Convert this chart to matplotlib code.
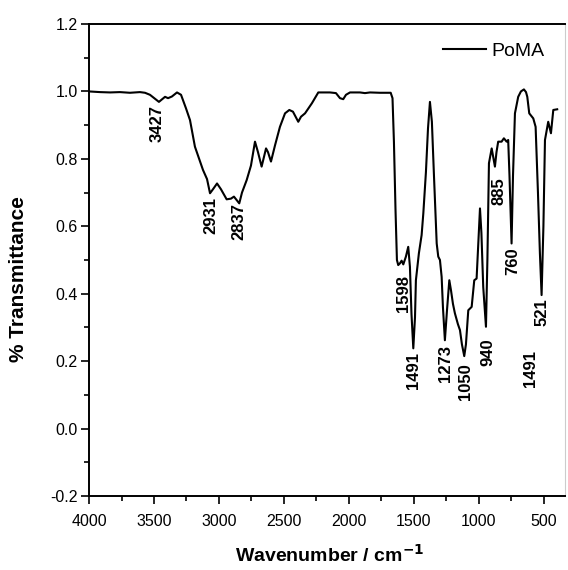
import numpy as np
import matplotlib
matplotlib.use('Agg')
import matplotlib.pyplot as plt
from matplotlib.ticker import MultipleLocator

plt.rcParams['font.family'] = ['Liberation Sans', 'DejaVu Sans']

# FTIR spectrum of PoMA
wavenumber = np.array([
   4000, 3915, 3838, 3762, 3685, 3608, 3569, 3531, 3462, 3415, 3392, 3362,
   3323, 3292, 3254, 3223, 3185, 3123, 3092, 3069, 3046, 3015, 2985, 2941,
   2908, 2885, 2869, 2844, 2823, 2787, 2754, 2723, 2700, 2672, 2638, 2623,
   2600, 2569, 2531, 2492, 2459, 2431, 2390, 2369, 2338, 2285, 2236, 2146,
   2100, 2069, 2044, 2023, 1992, 1915, 1877, 1838, 1762, 1679, 1665, 1654,
   1642, 1631, 1621, 1608, 1595, 1582, 1562, 1544, 1531, 1519, 1505, 1492,
   1485, 1462, 1441, 1428, 1408, 1392, 1377, 1362, 1346, 1325, 1313, 1300,
   1287, 1277, 1262, 1246, 1228, 1215, 1200, 1185, 1162, 1146, 1131, 1113,
   1100, 1082, 1056, 1036, 1018, 1004, 992, 981, 967, 946, 935, 923,
   902, 888, 877, 865, 852, 826, 808, 787, 775, 765, 749, 738,
   723, 698, 677, 654, 638, 628, 613, 582, 564, 546, 531, 518,
   504, 492, 467, 446, 428, 398])
transmittance = np.array([
   1.000, 0.998, 0.997, 0.998, 0.996, 0.998, 0.996, 0.990, 0.969, 0.984, 0.980, 0.985,
   0.997, 0.990, 0.950, 0.915, 0.836, 0.767, 0.740, 0.698, 0.710, 0.727, 0.710, 0.680,
   0.682, 0.688, 0.680, 0.668, 0.700, 0.737, 0.780, 0.851, 0.820, 0.777, 0.831, 0.820,
   0.792, 0.840, 0.895, 0.935, 0.945, 0.940, 0.910, 0.925, 0.935, 0.965, 0.997, 0.997,
   0.995, 0.980, 0.977, 0.990, 0.997, 0.997, 0.995, 0.997, 0.996, 0.996, 0.980, 0.850,
   0.650, 0.500, 0.485, 0.490, 0.498, 0.487, 0.510, 0.539, 0.480, 0.340, 0.238, 0.330,
   0.440, 0.520, 0.574, 0.638, 0.760, 0.890, 0.969, 0.910, 0.750, 0.549, 0.510, 0.500,
   0.450, 0.360, 0.262, 0.350, 0.440, 0.410, 0.370, 0.342, 0.310, 0.292, 0.250, 0.215,
   0.250, 0.351, 0.361, 0.440, 0.445, 0.560, 0.653, 0.580, 0.420, 0.302, 0.500, 0.787,
   0.831, 0.800, 0.777, 0.820, 0.851, 0.851, 0.861, 0.851, 0.856, 0.750, 0.549, 0.750,
   0.935, 0.984, 1.000, 1.006, 0.998, 0.984, 0.935, 0.920, 0.895, 0.700, 0.520, 0.396,
   0.600, 0.856, 0.910, 0.876, 0.945, 0.947])

# peak labels: text, x, top of text
peak_labels = ['3427', '2931', '2837', '1598', '1491', '1273', '1050', '940',
               '1491', '521', '885', '760']
peak_x = [3473, 3062, 2846, 1577, 1500, 1258, 1100, 931, 600, 512, 846, 739]
peak_y = [0.960, 0.687, 0.669, 0.455, 0.227, 0.248, 0.194, 0.268, 0.233, 0.387, 0.746, 0.538]

fig = plt.figure(figsize=(5.68, 5.70), dpi=100)
ax = fig.add_axes([0.1567, 0.1298, 0.8380, 0.8281])

ax.plot(wavenumber, transmittance, color='black', lw=1.5, label='PoMA',
        solid_joinstyle='round')

for txt, x, y in zip(peak_labels, peak_x, peak_y):
   ax.text(x, y, txt, rotation=90, ha='center', va='top', fontsize=12, fontweight='bold')

ax.set_xlim(4000, 338)
ax.set_ylim(-0.2, 1.2)
ax.xaxis.set_major_locator(MultipleLocator(500))
ax.xaxis.set_minor_locator(MultipleLocator(250))
ax.yaxis.set_major_locator(MultipleLocator(0.2))
ax.yaxis.set_minor_locator(MultipleLocator(0.1))
ax.tick_params(axis='both', which='major', direction='out', length=6, width=1.2, labelsize=11.5)
ax.tick_params(axis='both', which='minor', direction='out', length=3.5, width=1.2)
ax.tick_params(axis='x', which='major', pad=7)
ax.tick_params(axis='y', which='major', pad=2)
ax.yaxis.set_major_formatter(matplotlib.ticker.FormatStrFormatter('%.1f'))

for s in ['left', 'bottom', 'top']:
   ax.spines[s].set_linewidth(1.4)
ax.spines['right'].set_color('#cccccc')
ax.spines['right'].set_linewidth(0.8)

ax.set_xlabel('Wavenumber / cm$^{\\mathbf{-1}}$', fontsize=14, fontweight='bold')
ax.set_ylabel('% Transmittance', fontsize=15, fontweight='bold')
ax.xaxis.set_label_coords(0.506, -0.102)
ax.yaxis.set_label_coords(-0.128, 0.46)

ax.legend(loc='center right', bbox_to_anchor=(0.958, 0.9434), frameon=False,
          fontsize=14, handlelength=2.2, handletextpad=0.3, borderpad=0, borderaxespad=0)

fig.savefig('out.png', dpi=100)
